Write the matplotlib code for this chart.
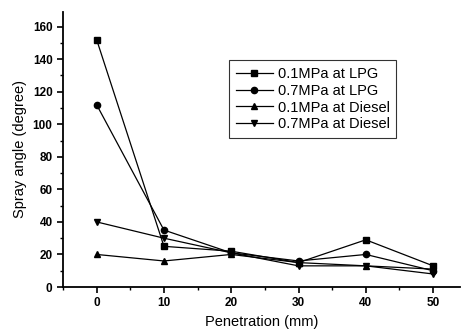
import matplotlib
matplotlib.use('Agg')
import matplotlib.pyplot as plt
from matplotlib.ticker import MultipleLocator

plt.rcParams['font.family'] = ['Liberation Sans', 'DejaVu Sans']

# Data
pen = [0, 10, 20, 30, 40, 50]
lpg_01 = [152, 25, 22, 15, 29, 13]
lpg_07 = [112, 35, 21, 16, 20, 10]
dsl_01 = [20, 16, 20, 15, 13, 11]
dsl_07 = [40, 30, 21, 13, 13, 8]

labels = ['0.1MPa at LPG', '0.7MPa at LPG', '0.1MPa at Diesel', '0.7MPa at Diesel']
markers = ['s', 'o', '^', 'v']

fig = plt.figure(figsize=(4.67, 3.31), dpi=100)
ax = fig.add_axes([63/467, 44/331, 397/467, 275/331])

for y, lab, m in zip([lpg_01, lpg_07, dsl_01, dsl_07], labels, markers):
    ax.plot(pen, y, color='black', lw=0.9, marker=m, ms=4.5, label=lab)

ax.set_xlim(-5, 54)
ax.set_ylim(0, 169)
ax.xaxis.set_major_locator(MultipleLocator(10))
ax.xaxis.set_minor_locator(MultipleLocator(5))
ax.yaxis.set_major_locator(MultipleLocator(20))
ax.yaxis.set_minor_locator(MultipleLocator(10))
ax.spines['top'].set_visible(False)
ax.spines['right'].set_visible(False)
ax.spines['left'].set_linewidth(1.3)
ax.spines['bottom'].set_linewidth(1.3)
ax.tick_params(which='major', length=4, width=1.2, labelsize=8.5)
ax.tick_params(which='minor', length=2.5, width=1)
for t in ax.get_xticklabels() + ax.get_yticklabels():
    t.set_fontweight('bold')

ax.set_xlabel('Penetration (mm)', fontsize=10.5)
ax.set_ylabel('Spray angle (degree)', fontsize=10.5)

leg = ax.legend(loc='upper left', bbox_to_anchor=(0.418, 0.825), fontsize=10.5,
                frameon=True, fancybox=False, edgecolor='black',
                handlelength=2.6, handletextpad=0.3, borderpad=0.45,
                labelspacing=0.2, borderaxespad=0)
leg.get_frame().set_linewidth(0.8)

fig.savefig('out.png', dpi=100)
